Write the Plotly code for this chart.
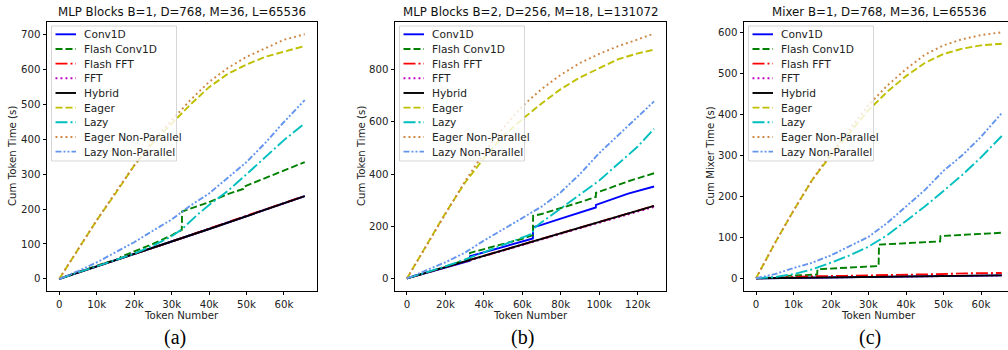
import numpy as np
import plotly.graph_objects as go

W, H = 1008, 350

SERIES = ["Conv1D", "Flash Conv1D", "Flash FFT", "FFT", "Hybrid",
          "Eager", "Lazy", "Eager Non-Parallel", "Lazy Non-Parallel"]
COLORS = ["#0000ff", "#008000", "#ff0000", "#bf00bf", "#000000",
          "#bfbf00", "#00bfbf", "#cd853f", "#6495ed"]
DASHES = ["solid", "7px,3px", "12px,3px,2px,3px", "1.9px,3.1px", "solid",
          "7px,3px", "12px,3px,2px,3px", "1.9px,3.1px", "6px,2px,2px,2px,2px,2px"]

TITLES = ["MLP Blocks B=1, D=768, M=36, L=65536",
          "MLP Blocks B=2, D=256, M=18, L=131072",
          "Mixer B=1, D=768, M=36, L=65536"]
YLABELS = ["Cum Token Time (s)", "Cum Token Time (s)", "Cum Mixer Time (s)"]
CAPTIONS = ["(a)", "(b)", "(c)"]

# ---------------- Panel (a): token positions in thousands ----------------
A_GRID_K = [0, 5, 10, 15, 20, 25, 30, 35, 40, 45, 50, 55, 60, 65.536]
A_EAGER = [0, 85, 168, 245, 325, 390, 445, 500, 550, 588, 615, 637, 652, 668]
A_EAGER_NP = [0, 85, 168, 248, 325, 396, 455, 513, 565, 605, 637, 662, 686, 702]
A_LAZY_NP = [0, 22, 47, 75, 105, 138, 170, 210, 245, 290, 335, 390, 450, 513]
A_LAZY_K = [0, 5, 10, 15, 20, 25, 30, 32.7, 37, 40, 45, 50, 55, 60, 65.536]
A_LAZY = [0, 18, 35, 52, 72, 95, 122, 142, 185, 212, 252, 300, 350, 398, 446]
A_FCONV_K = [0, 4, 8, 12, 16.3, 16.4, 20, 25, 30, 32.7, 32.8, 36, 40, 45,
             49.1, 49.2, 55, 60, 65.536]
A_FCONV = [0, 14, 30, 45, 58, 63, 78, 100, 125, 140, 193, 205, 220, 243,
           258, 264, 290, 312, 335]
A_LIN_K = [0, 10, 20, 30, 40, 50, 60, 65.536]
A_HYBRID = [0, 35, 71, 107, 143, 180, 216, 237]
A_CONV1D = [0, 35, 71, 107, 143, 180, 216, 237]
A_FFFT = [0, 35, 71, 107, 144, 181, 217, 238]
A_FFT = [0, 35, 71, 107, 143, 180, 216, 237]

# ---------------- Panel (b) ----------------
B_GRID_K = [0, 10, 20, 30, 40, 50, 60, 70, 80, 90, 100, 110, 120, 128.5]
B_EAGER = [0, 125, 250, 365, 460, 545, 610, 670, 725, 770, 805, 840, 862, 876]
B_EAGER_NP = [0, 125, 250, 370, 480, 575, 660, 725, 780, 825, 860, 890, 915, 938]
B_LAZY_NP = [0, 30, 62, 98, 145, 188, 230, 275, 330, 400, 480, 550, 620, 678]
B_LAZY_K = [0, 10, 20, 30, 40, 50, 60, 65.5, 65.6, 70, 80, 90, 100, 110, 120, 128.5]
B_LAZY = [0, 22, 46, 72, 100, 128, 155, 172, 190, 215, 268, 320, 375, 440, 505, 573]
B_STEP_K = [0, 8, 16, 24, 32.7, 32.8, 40, 50, 60, 65.5, 65.6, 70, 80, 90,
            98.2, 98.3, 105, 115, 128.5]
B_FCONV = [0, 17, 36, 55, 78, 98, 112, 132, 152, 166, 240, 247, 268, 292,
           312, 328, 345, 372, 403]
B_CONV1D = [0, 16, 33, 50, 68, 85, 100, 120, 142, 153, 196, 205, 229, 253,
            272, 282, 300, 325, 352]
B_LIN_K = [0, 20, 40, 60, 80, 100, 128.5]
B_HYBRID = [0, 43, 86, 130, 173, 216, 278]
B_FFFT = [0, 43, 86, 130, 173, 216, 278]
B_FFT = [0, 42, 85, 128, 171, 213, 274]

# ---------------- Panel (c) ----------------
C_GRID_K = [0, 5, 10, 15, 20, 25, 30, 35, 40, 45, 50, 55, 60, 65.536]
C_EAGER = [0, 85, 165, 240, 300, 355, 410, 455, 493, 525, 547, 560, 568, 572]
C_EAGER_NP = [0, 85, 165, 240, 305, 365, 422, 470, 510, 545, 568, 583, 593, 600]
C_LAZY_NP = [0, 10, 25, 38, 56, 78, 101, 135, 176, 215, 262, 300, 345, 403]
C_LAZY = [0, 3, 10, 22, 38, 56, 77, 105, 140, 175, 213, 252, 295, 347]
C_FCONV_K = [0, 4, 8.2, 8.3, 16.3, 16.4, 24, 32.7, 32.8, 40, 49.1, 49.2, 57, 65.536]
C_FCONV = [0, 1, 3, 6, 9, 22, 26, 30, 82, 86, 90, 103, 107, 111]
C_FFFT_K = [0, 8, 16, 24, 32, 40, 48, 56, 65.536]
C_FFFT = [0, 3, 5, 6, 7, 9, 10, 12, 13]
C_LIN_K = [0, 10, 20, 30, 40, 50, 60, 65.536]
C_HYBRID = [0, 1, 2, 3, 4, 5, 6, 7]
C_CONV1D = [0, 1, 2, 3, 4, 5, 6, 7]
C_FFT = [0, 1, 2, 3, 4, 5, 6, 7]

PANELS = [
    {"Conv1D": (A_LIN_K, A_CONV1D), "Flash Conv1D": (A_FCONV_K, A_FCONV),
     "Flash FFT": (A_LIN_K, A_FFFT), "FFT": (A_LIN_K, A_FFT),
     "Hybrid": (A_LIN_K, A_HYBRID), "Eager": (A_GRID_K, A_EAGER),
     "Lazy": (A_LAZY_K, A_LAZY), "Eager Non-Parallel": (A_GRID_K, A_EAGER_NP),
     "Lazy Non-Parallel": (A_GRID_K, A_LAZY_NP)},
    {"Conv1D": (B_STEP_K, B_CONV1D), "Flash Conv1D": (B_STEP_K, B_FCONV),
     "Flash FFT": (B_LIN_K, B_FFFT), "FFT": (B_LIN_K, B_FFT),
     "Hybrid": (B_LIN_K, B_HYBRID), "Eager": (B_GRID_K, B_EAGER),
     "Lazy": (B_LAZY_K, B_LAZY), "Eager Non-Parallel": (B_GRID_K, B_EAGER_NP),
     "Lazy Non-Parallel": (B_GRID_K, B_LAZY_NP)},
    {"Conv1D": (C_LIN_K, C_CONV1D), "Flash Conv1D": (C_FCONV_K, C_FCONV),
     "Flash FFT": (C_FFFT_K, C_FFFT), "FFT": (C_LIN_K, C_FFT),
     "Hybrid": (C_LIN_K, C_HYBRID), "Eager": (C_GRID_K, C_EAGER),
     "Lazy": (C_GRID_K, C_LAZY), "Eager Non-Parallel": (C_GRID_K, C_EAGER_NP),
     "Lazy Non-Parallel": (C_GRID_K, C_LAZY_NP)},
]

X_TICKS = [[0, 10000, 20000, 30000, 40000, 50000, 60000],
           [0, 20000, 40000, 60000, 80000, 100000, 120000],
           [0, 10000, 20000, 30000, 40000, 50000, 60000]]
X_TICKTEXT = [["0", "10k", "20k", "30k", "40k", "50k", "60k"],
              ["0", "20k", "40k", "60k", "80k", "100k", "120k"],
              ["0", "10k", "20k", "30k", "40k", "50k", "60k"]]
Y_TICKS = [[0, 100, 200, 300, 400, 500, 600, 700],
           [0, 200, 400, 600, 800],
           [0, 100, 200, 300, 400, 500, 600]]
X_RANGES = [[-3277, 68813], [-6200, 134700], [-3200, 67200]]
Y_RANGES = [[-35, 737], [-48, 982], [-31, 625]]

# layout geometry in pixels
AX_LEFT = [47, 395, 744]
AX_RIGHT = [317, 666, 1008]
AX_TOP, AX_BOTTOM = 22, 291
CAPTION_X = [174.5, 522.7, 870]
XLABEL_X = [181, 530.3, 878.3]
YLABEL_X = [12, 361, 709.5]
TITLE_X = [182, 530.5, 879]

FONT = "DejaVu Sans"
TICK_SIZE = 10.2
LEGEND_SIZE = 10.6
TITLE_SIZE = 11.8


def px(x):
    return x / W


def py(y):
    return 1 - y / H


fig = go.Figure()
shapes = []
annotations = []

for p in range(3):
    xa = "x" if p == 0 else f"x{p + 1}"
    ya = "y" if p == 0 else f"y{p + 1}"
    for i, name in enumerate(SERIES):
        xk, yv = PANELS[p][name]
        fig.add_trace(go.Scatter(
            x=np.array(xk) * 1000, y=yv, mode="lines", name=name,
            line=dict(color=COLORS[i], width=1.9, dash=DASHES[i]),
            xaxis=xa, yaxis=ya, showlegend=False, hoverinfo="skip"))

    axkey = "" if p == 0 else str(p + 1)
    fig.layout["xaxis" + axkey] = dict(
        domain=[px(AX_LEFT[p]), min(1.0, px(AX_RIGHT[p]))],
        range=X_RANGES[p], anchor=ya, tickvals=X_TICKS[p], ticktext=X_TICKTEXT[p],
        showgrid=False, zeroline=False, showline=True, linecolor="black",
        linewidth=0.8, mirror=True, ticks="outside", ticklen=3.5, tickwidth=0.8,
        tickcolor="black", tickfont=dict(family=FONT, size=TICK_SIZE, color="#222"),
        automargin=False)
    fig.layout["yaxis" + axkey] = dict(
        domain=[py(AX_BOTTOM), py(AX_TOP)], range=Y_RANGES[p], anchor=xa,
        tickvals=Y_TICKS[p], showgrid=False, zeroline=False, showline=True,
        linecolor="black", linewidth=0.8, mirror=(p != 2), ticks="outside",
        ticklen=3.5, tickwidth=0.8, tickcolor="black",
        tickfont=dict(family=FONT, size=TICK_SIZE, color="#222"), automargin=False)

    # titles and labels
    annotations.append(dict(text=TITLES[p], x=px(TITLE_X[p]), y=py(12), xref="paper",
                            yref="paper", showarrow=False, xanchor="center",
                            yanchor="middle", font=dict(family=FONT, size=TITLE_SIZE, color="#111")))
    annotations.append(dict(text="Token Number", x=px(XLABEL_X[p]), y=py(315), xref="paper",
                            yref="paper", showarrow=False, xanchor="center",
                            yanchor="middle", font=dict(family=FONT, size=TICK_SIZE, color="#222")))
    annotations.append(dict(text=YLABELS[p], x=px(YLABEL_X[p]), y=py(156), xref="paper",
                            yref="paper", showarrow=False, xanchor="center", textangle=-90,
                            yanchor="middle", font=dict(family=FONT, size=TICK_SIZE, color="#222")))
    annotations.append(dict(text=CAPTIONS[p], x=px(CAPTION_X[p]), y=py(337.5), xref="paper",
                            yref="paper", showarrow=False, xanchor="center",
                            yanchor="middle", font=dict(family="Liberation Serif", size=20, color="black")))

    # legend box (drawn from the SERIES / COLORS / DASHES lists)
    lx0 = AX_LEFT[p] + 4.5
    lx1 = lx0 + 125
    shapes.append(dict(type="rect", xref="paper", yref="paper",
                       x0=px(lx0), x1=px(lx1), y0=py(161), y1=py(26),
                       fillcolor="rgba(255,255,255,0.8)",
                       line=dict(color="#cccccc", width=0.8), layer="above"))
    for i, name in enumerate(SERIES):
        ry = 34.3 + 14.67 * i
        shapes.append(dict(type="line", xref="paper", yref="paper",
                           x0=px(lx0 + 4), x1=px(lx0 + 24.5), y0=py(ry), y1=py(ry),
                           line=dict(color=COLORS[i], width=1.9, dash=DASHES[i]),
                           layer="above"))
        annotations.append(dict(text=name, x=px(lx0 + 30), y=py(ry), xref="paper",
                                yref="paper", showarrow=False, xanchor="left",
                                yanchor="middle",
                                font=dict(family=FONT, size=LEGEND_SIZE, color="#222")))

fig.update_layout(width=W, height=H, margin=dict(l=0, r=0, t=0, b=0),
                  paper_bgcolor="white", plot_bgcolor="white",
                  shapes=shapes, annotations=annotations, showlegend=False)

fig.write_html("out.html", config={"displayModeBar": False},
               post_script="document.body.style.margin='0';document.body.style.padding='0';")
